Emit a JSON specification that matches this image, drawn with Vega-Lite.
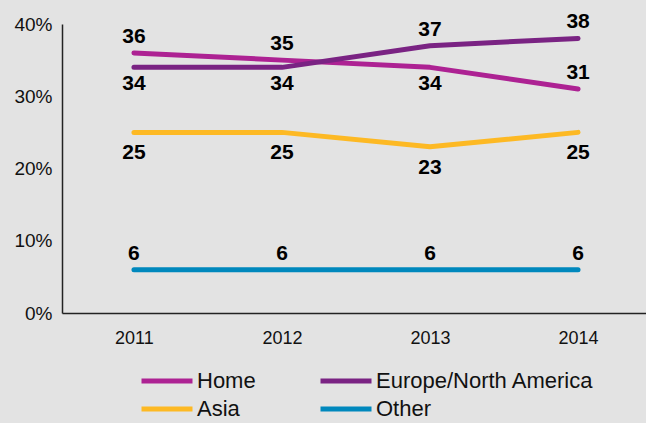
{
  "$schema": "https://vega.github.io/schema/vega-lite/v6.json",
  "width": 588,
  "height": 289,
  "autosize": {"type": "none"},
  "padding": {"left": 62, "top": 24, "right": 0, "bottom": 110},
  "background": "#e3e3e3",
  "config": {
    "view": {"stroke": null},
    "font": "Liberation Sans"
  },
  "data": {
    "values": [
      {"year": 2011, "series": "Home", "value": 36},
      {"year": 2012, "series": "Home", "value": 35},
      {"year": 2013, "series": "Home", "value": 34},
      {"year": 2014, "series": "Home", "value": 31},
      {"year": 2011, "series": "Europe/North America", "value": 34},
      {"year": 2012, "series": "Europe/North America", "value": 34},
      {"year": 2013, "series": "Europe/North America", "value": 37},
      {"year": 2014, "series": "Europe/North America", "value": 38},
      {"year": 2011, "series": "Asia", "value": 25},
      {"year": 2012, "series": "Asia", "value": 25},
      {"year": 2013, "series": "Asia", "value": 23},
      {"year": 2014, "series": "Asia", "value": 25},
      {"year": 2011, "series": "Other", "value": 6},
      {"year": 2012, "series": "Other", "value": 6},
      {"year": 2013, "series": "Other", "value": 6},
      {"year": 2014, "series": "Other", "value": 6}
    ]
  },
  "encoding": {
    "x": {
      "field": "year", "type": "ordinal",
      "scale": {"type": "point", "padding": 0.486},
      "axis": {
        "title": null, "labelAngle": 0, "ticks": false, "grid": false,
        "domainColor": "#222222", "domainWidth": 1.5,
        "labelFontSize": 18, "labelColor": "#111111", "labelPadding": 16
      }
    },
    "y": {
      "field": "value", "type": "quantitative",
      "scale": {"domain": [0, 40]},
      "axis": {
        "title": null, "ticks": false, "grid": false,
        "values": [0, 10, 20, 30, 40], "labelOverlap": false,
        "labelExpr": "datum.value + '%'",
        "domainColor": "#222222", "domainWidth": 1.5,
        "labelFontSize": 19, "labelColor": "#111111", "labelPadding": 10
      }
    }
  },
  "layer": [
    {
      "mark": {"type": "line", "strokeWidth": 5, "strokeCap": "round", "strokeJoin": "round"},
      "encoding": {
        "color": {
          "field": "series", "type": "nominal",
          "scale": {
            "domain": ["Home", "Europe/North America", "Asia", "Other"],
            "range": ["#ad2293", "#7a2383", "#fdb924", "#0088bd"]
          },
          "legend": {
            "title": null, "orient": "none", "legendX": 94, "legendY": 346,
            "direction": "horizontal", "columns": 2, "columnPadding": 54, "rowPadding": 6,
            "symbolType": "M-3,0H3", "symbolSize": 289, "symbolStrokeWidth": 5,
            "labelFontSize": 22, "labelColor": "#111111", "labelOffset": 19, "labelLimit": 400
          }
        },
        "sort": {"field": "year"}
      }
    },
    {
      "transform": [
        {"filter": "!(datum.series === 'Asia' || (datum.series === 'Europe/North America' && datum.year < 2013) || (datum.series === 'Home' && datum.year === 2013))"}
      ],
      "mark": {"type": "text", "dy": -16, "fontSize": 21, "fontWeight": "bold", "color": "#000000", "baseline": "middle"},
      "encoding": {"text": {"field": "value", "type": "quantitative"}}
    },
    {
      "transform": [
        {"filter": "(datum.series === 'Europe/North America' && datum.year < 2013) || (datum.series === 'Home' && datum.year === 2013)"}
      ],
      "mark": {"type": "text", "dy": 17, "fontSize": 21, "fontWeight": "bold", "color": "#000000", "baseline": "middle"},
      "encoding": {"text": {"field": "value", "type": "quantitative"}}
    },
    {
      "transform": [{"filter": "datum.series === 'Asia'"}],
      "mark": {"type": "text", "dy": 21, "fontSize": 21, "fontWeight": "bold", "color": "#000000", "baseline": "middle"},
      "encoding": {"text": {"field": "value", "type": "quantitative"}}
    }
  ]
}
